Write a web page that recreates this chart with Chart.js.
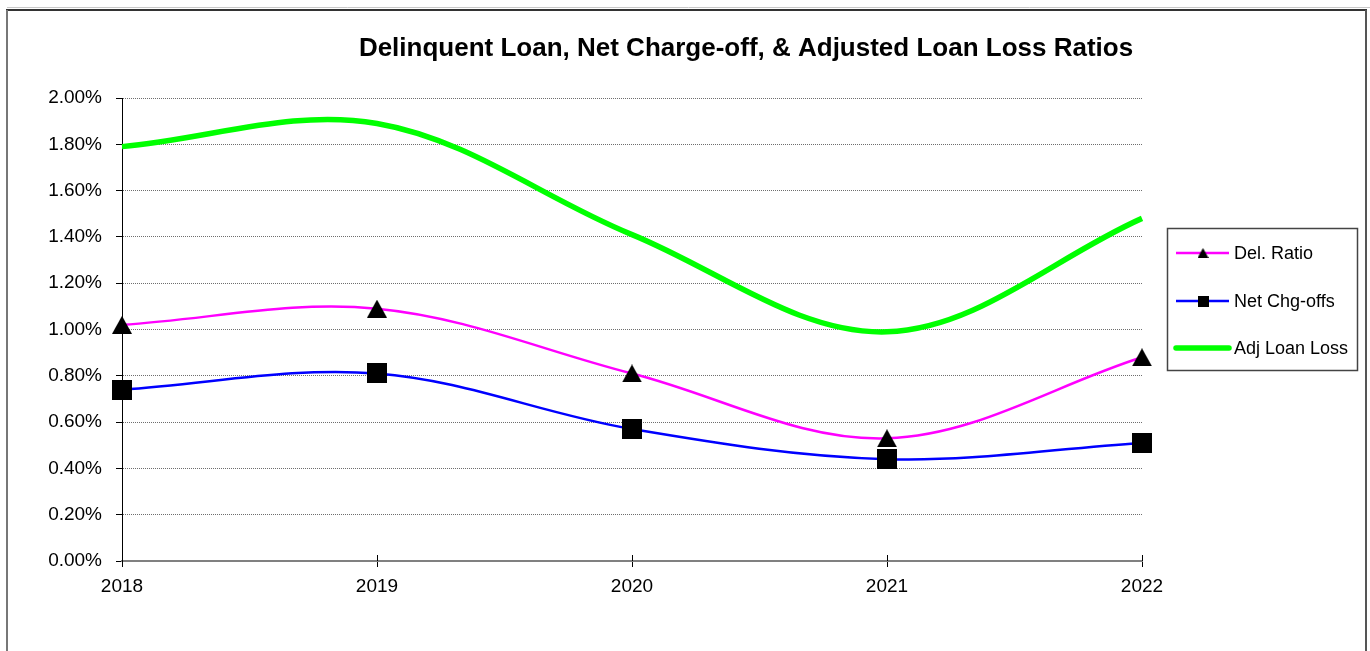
<!DOCTYPE html>
<html>
<head>
<meta charset="utf-8">
<script src="https://cdn.jsdelivr.net/npm/chart.js@4.4.1/dist/chart.umd.min.js"></script>
<style>
  html, body { margin: 0; padding: 0; background: #fff; }
  #wrap { position: relative; width: 1370px; height: 651px; }
</style>
</head>
<body>
<div id="wrap"><canvas id="lossChart"></canvas></div>
<script>
// valeurs (en %)
const years = ["2018", "2019", "2020", "2021", "2022"];
const delRatio = [1.02, 1.09, 0.81, 0.53, 0.88];
const netChgOffs = [0.74, 0.81, 0.57, 0.44, 0.51];
const adjLoanLoss = [1.79, 1.89, 1.41, 0.99, 1.48];
const seriesNames = ["Del. Ratio", "Net Chg-offs", "Adj Loan Loss"];
const chartTitle = "Delinquent Loan, Net Charge-off, & Adjusted Loan Loss Ratios";
const yMin = 0, yMax = 2, yStep = 0.2;

const FONT = '"Liberation Sans", Arial, sans-serif';

// petits marqueurs dessinés une fois, centrés sur le point
function makeMarker(shape, w, h) {
  const c = document.createElement("canvas");
  c.width = w;
  c.height = h;
  const g = c.getContext("2d");
  g.fillStyle = "#000";
  if (shape === "triangle") {
    g.beginPath();
    g.moveTo(w / 2, 0);
    g.lineTo(w, h);
    g.lineTo(0, h);
    g.closePath();
    g.fill();
  } else {
    g.fillRect(0, 0, w, h);
  }
  return c;
}

const triBig = makeMarker("triangle", 20, 18);
const sqBig = makeMarker("square", 20, 20);
const triSmall = makeMarker("triangle", 11, 10);
const sqSmall = makeMarker("square", 11, 11);

// cadre autour de la figure
const framePlugin = {
  id: "frame",
  beforeDraw(chart) {
    const ctx = chart.ctx;
    ctx.save();
    ctx.strokeStyle = "#c8c8c8";
    ctx.lineWidth = 1;
    ctx.beginPath();
    ctx.moveTo(7, 7.5);
    ctx.lineTo(1370, 7.5);
    ctx.stroke();
    ctx.strokeStyle = "#333";
    ctx.lineWidth = 2;
    ctx.beginPath();
    ctx.moveTo(6, 10);
    ctx.lineTo(1367, 10);
    ctx.stroke();
    ctx.strokeStyle = "#777";
    ctx.beginPath();
    ctx.moveTo(7, 10);
    ctx.lineTo(7, 651);
    ctx.stroke();
    ctx.strokeStyle = "#555";
    ctx.beginPath();
    ctx.moveTo(1366, 10);
    ctx.lineTo(1366, 651);
    ctx.stroke();
    ctx.restore();
  },
  // petits traits de graduation qui traversent l'axe des x
  afterDatasetsDraw(chart) {
    const x = chart.scales.x;
    const ctx = chart.ctx;
    ctx.save();
    ctx.strokeStyle = "#000";
    ctx.lineWidth = 1;
    years.forEach((yr, i) => {
      const px = Math.round(x.getPixelForValue(i)) + 0.5;
      ctx.beginPath();
      ctx.moveTo(px, x.top - 6);
      ctx.lineTo(px, x.top);
      ctx.stroke();
    });
    ctx.restore();
  },
};

// titre et légende encadrée
const titleLegendPlugin = {
  id: "titleLegend",
  afterDraw(chart) {
    const ctx = chart.ctx;
    ctx.save();
    ctx.fillStyle = "#000";
    ctx.font = "bold 26px " + FONT;
    ctx.textAlign = "center";
    ctx.textBaseline = "alphabetic";
    ctx.fillText(chartTitle, 746, 56);

    ctx.strokeStyle = "#444";
    ctx.lineWidth = 1.5;
    ctx.strokeRect(1167.5, 228.5, 190, 142);

    const rows = [253, 301, 348];
    const smallMarkers = [triSmall, sqSmall, null];
    ctx.font = "18px " + FONT;
    ctx.textAlign = "left";
    ctx.textBaseline = "middle";
    chart.data.datasets.forEach((ds, i) => {
      const y = rows[i];
      ctx.strokeStyle = ds.borderColor;
      ctx.lineWidth = ds.borderWidth;
      ctx.lineCap = i === 2 ? "round" : "butt";
      ctx.beginPath();
      ctx.moveTo(1176, y);
      ctx.lineTo(1229, y);
      ctx.stroke();
      const m = smallMarkers[i];
      if (m) ctx.drawImage(m, 1203 - m.width / 2, y - m.height / 2);
      ctx.fillStyle = "#000";
      ctx.fillText(ds.label, 1234, y + 1);
    });
    ctx.restore();
  },
};

const ctx = document.getElementById("lossChart").getContext("2d");
new Chart(ctx, {
  type: "line",
  data: {
    labels: years,
    datasets: [
      {
        label: seriesNames[0],
        data: delRatio,
        borderColor: "#ff00ff",
        borderWidth: 2.5,
        tension: 0.35,
        pointStyle: triBig,
        pointRadius: 10,
        clip: false,
      },
      {
        label: seriesNames[1],
        data: netChgOffs,
        borderColor: "#0000ff",
        borderWidth: 2.5,
        tension: 0.35,
        pointStyle: sqBig,
        pointRadius: 10,
        clip: false,
      },
      {
        label: seriesNames[2],
        data: adjLoanLoss,
        borderColor: "#00ff00",
        borderWidth: 5.5,
        tension: 0.35,
        pointRadius: 0,
        clip: false,
      },
    ],
  },
  options: {
    responsive: true,
    maintainAspectRatio: false,
    animation: false,
    events: [],
    layout: {
      padding: { top: 98, right: 228, bottom: 0, left: 0 },
    },
    plugins: {
      legend: { display: false },
      title: { display: false },
      tooltip: { enabled: false },
    },
    scales: {
      x: {
        offset: false,
        grid: {
          drawOnChartArea: false,
          color: "#000",
          tickLength: 6,
        },
        border: { color: "#808080", width: 2 },
        ticks: {
          color: "#000",
          font: { family: FONT, size: 19 },
          padding: 8,
          maxRotation: 0,
        },
        afterFit(scale) {
          scale.height = 90;
        },
      },
      y: {
        min: yMin,
        max: yMax,
        grid: {
          color: "#6e6e6e",
          tickColor: "#000",
          tickLength: 6,
          tickBorderDash: [],
        },
        border: { color: "#000", width: 1, dash: [1, 1] },
        ticks: {
          stepSize: yStep,
          color: "#000",
          font: { family: FONT, size: 19 },
          padding: 14,
          callback: (v) => Number(v).toFixed(2) + "%",
        },
        afterFit(scale) {
          scale.width = 122;
        },
      },
    },
  },
  plugins: [framePlugin, titleLegendPlugin],
});
</script>
</body>
</html>
